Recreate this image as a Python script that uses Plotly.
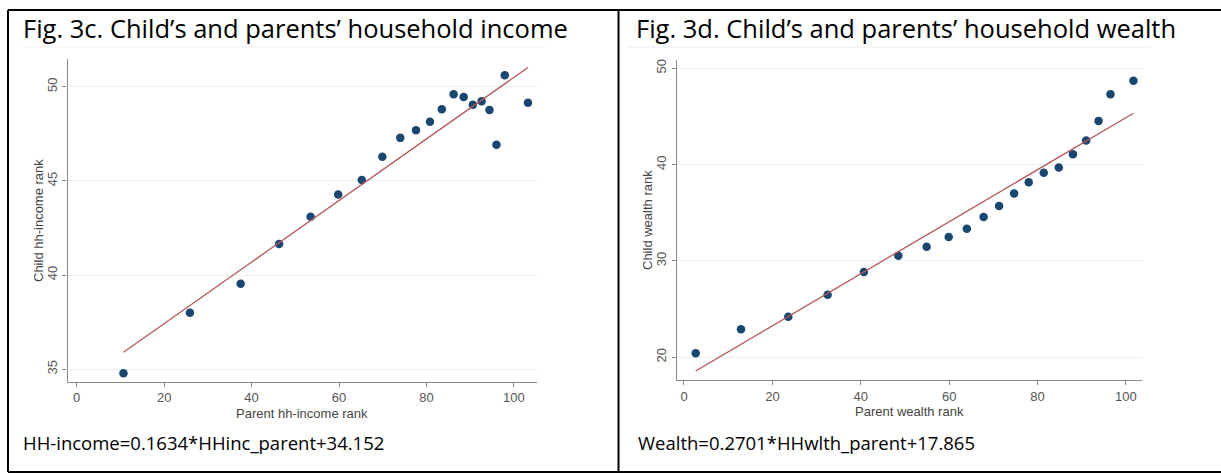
import plotly.graph_objects as go

W, H = 1221, 474

# ---- data: Fig. 3c household income ----
inc_parent = [10.7, 25.9, 37.5, 46.3, 53.5, 59.8, 65.2, 69.9, 74.0, 77.6,
              80.8, 83.5, 86.2, 88.5, 90.6, 92.6, 94.4, 96.0, 97.9, 103.2]
inc_child = [34.79, 38.0, 39.54, 41.65, 43.1, 44.27, 45.05, 46.28, 47.28, 47.69,
             48.13, 48.80, 49.60, 49.45, 49.04, 49.22, 48.76, 46.92, 50.60, 49.15]
inc_slope, inc_const = 0.1634, 34.152

# ---- data: Fig. 3d household wealth ----
wl_parent = [2.65, 12.9, 23.6, 32.5, 40.7, 48.5, 54.9, 59.9, 64.0, 67.8,
             71.3, 74.7, 78.0, 81.4, 84.8, 88.0, 91.0, 93.8, 96.5, 101.7]
wl_child = [20.42, 22.9, 24.2, 26.49, 28.84, 30.55, 31.48, 32.49, 33.35, 34.56,
            35.7, 37.0, 38.16, 39.16, 39.7, 41.07, 42.5, 44.54, 47.3, 48.7]
wl_slope, wl_const = 0.2701, 17.865

x_ticks = [0, 20, 40, 60, 80, 100]
inc_yticks = [35, 40, 45, 50]
wl_yticks = [20, 30, 40, 50]

titles = ["Fig. 3c. Child\u2019s and parents\u2019 household income",
          "Fig. 3d. Child\u2019s and parents\u2019 household wealth"]
equations = ["HH-income=0.1634*HHinc_parent+34.152",
             "Wealth=0.2701*HHwlth_parent+17.865"]
x_titles = ["Parent hh-income rank", "Parent wealth rank"]
y_titles = ["Child hh-income rank", "Child wealth rank"]

MARKER = "#1a476f"
FIT = "#b4575a"
GRID = "#e8f0f1"
AXIS = "#8a8a8a"
TICKTXT = "#555555"

def px_x(p):
    return p / W

def px_y(p):
    return 1 - p / H

fig = go.Figure()

# left panel
fig.add_trace(go.Scatter(x=inc_parent, y=inc_child, mode="markers",
                         marker=dict(color=MARKER, size=8.5), xaxis="x", yaxis="y",
                         showlegend=False))
fx = [min(inc_parent), max(inc_parent)]
fig.add_trace(go.Scatter(x=fx, y=[inc_slope * v + inc_const for v in fx], mode="lines",
                         line=dict(color=FIT, width=1.3), xaxis="x", yaxis="y",
                         showlegend=False))
# right panel
fig.add_trace(go.Scatter(x=wl_parent, y=wl_child, mode="markers",
                         marker=dict(color=MARKER, size=8.5), xaxis="x2", yaxis="y2",
                         showlegend=False))
fx2 = [min(wl_parent), max(wl_parent)]
fig.add_trace(go.Scatter(x=fx2, y=[wl_slope * v + wl_const for v in fx2], mode="lines",
                         line=dict(color=FIT, width=1.3), xaxis="x2", yaxis="y2",
                         showlegend=False))

tickfont = dict(family="Liberation Sans, Arial", size=13, color=TICKTXT)

def xaxis(domain, anchor, rng):
    return dict(domain=domain, anchor=anchor, range=rng,
                tickvals=x_ticks, showgrid=False, zeroline=False, showline=True,
                linecolor=AXIS, linewidth=1.2, ticks="outside", ticklen=4,
                tickcolor=AXIS, tickwidth=1, tickfont=tickfont)

def yaxis(domain, anchor, rng, tv):
    return dict(domain=domain, anchor=anchor, range=rng, tickvals=tv,
                showgrid=True, gridcolor=GRID, gridwidth=1, zeroline=False,
                showline=True, linecolor=AXIS, linewidth=1.2, ticks="outside",
                ticklen=4, tickcolor=AXIS, tickwidth=1, tickangle=-90,
                tickfont=tickfont)

fig.update_layout(
    width=W, height=H, margin=dict(l=0, r=0, t=0, b=0),
    paper_bgcolor="white", plot_bgcolor="white",
    xaxis=xaxis([px_x(67.5), px_x(536.7)], "y", [-2.1, 105.2]),
    yaxis=yaxis([px_y(381.7), px_y(59.3)], "x", [34.34, 51.45], inc_yticks),
    xaxis2=xaxis([px_x(676.7), px_x(1142.3)], "y2", [-1.65, 103.7]),
    yaxis2=yaxis([px_y(380), px_y(60)], "x2", [17.64, 50.86], wl_yticks),
)

ann = []
title_font = dict(family="Open Sans, Noto Sans, sans-serif", size=25.5, color="black")
eq_font = dict(family="Open Sans, Noto Sans, sans-serif", size=18.5, color="black")
axt_font = dict(family="Liberation Sans, Arial", size=13, color="#444444")
for i, (tx, ex) in enumerate([(21, 21), (634, 636)]):
    ann.append(dict(text=titles[i], x=px_x(tx), y=px_y(28), xref="paper", yref="paper",
                    xanchor="left", yanchor="middle", showarrow=False, font=title_font))
    ann.append(dict(text=equations[i], x=px_x(ex), y=px_y(442), xref="paper", yref="paper",
                    xanchor="left", yanchor="middle", showarrow=False, font=eq_font))
ann.append(dict(text=x_titles[0], x=px_x(302), y=px_y(413), xref="paper", yref="paper",
                xanchor="center", yanchor="middle", showarrow=False, font=axt_font))
ann.append(dict(text=x_titles[1], x=px_x(909.5), y=px_y(411.5), xref="paper", yref="paper",
                xanchor="center", yanchor="middle", showarrow=False, font=axt_font))
ann.append(dict(text=y_titles[0], x=px_x(38.5), y=px_y(220.5), xref="paper", yref="paper",
                xanchor="center", yanchor="middle", showarrow=False, textangle=-90, font=axt_font))
ann.append(dict(text=y_titles[1], x=px_x(647), y=px_y(220), xref="paper", yref="paper",
                xanchor="center", yanchor="middle", showarrow=False, textangle=-90, font=axt_font))
fig.update_layout(annotations=ann)

shapes = [
    # outer frame
    dict(type="line", xref="paper", yref="paper", x0=px_x(8), x1=1.01, y0=px_y(10), y1=px_y(10),
         line=dict(color="black", width=2)),
    dict(type="line", xref="paper", yref="paper", x0=px_x(8), x1=1.01, y0=px_y(472), y1=px_y(472),
         line=dict(color="black", width=2)),
    dict(type="line", xref="paper", yref="paper", x0=px_x(8), x1=px_x(8), y0=px_y(10), y1=px_y(472),
         line=dict(color="black", width=2)),
    dict(type="line", xref="paper", yref="paper", x0=px_x(618.5), x1=px_x(618.5), y0=px_y(10), y1=px_y(472),
         line=dict(color="black", width=2)),
    # faint separators under titles
    dict(type="line", xref="paper", yref="paper", x0=px_x(22), x1=px_x(545), y0=px_y(47), y1=px_y(47),
         line=dict(color="#f0f0f0", width=1)),
    dict(type="line", xref="paper", yref="paper", x0=px_x(628), x1=px_x(1151), y0=px_y(47), y1=px_y(47),
         line=dict(color="#ececec", width=1)),
]
fig.update_layout(shapes=shapes)

fig.write_html("out.html", config={"displayModeBar": False},
               post_script="document.body.style.margin='0';document.body.style.overflow='hidden';")
